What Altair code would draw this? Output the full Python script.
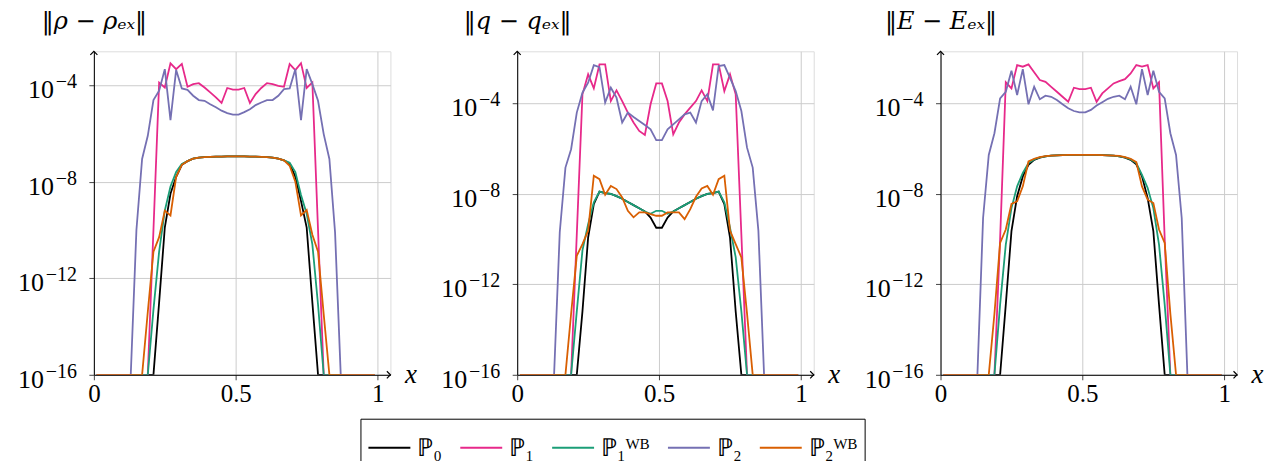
import altair as alt
import pandas as pd

X = [round(0.01 + 0.02 * i, 2) for i in range(50)]

KEYS = ["P0", "P1", "P1WB", "P2", "P2WB"]
LABELS = ["ℙ₀", "ℙ₁", "ℙ₁ᵂᴮ", "ℙ₂", "ℙ₂ᵂᴮ"]
COLORS = ["#000000", "#e7298a", "#1b9e77", "#7570b3", "#d95f02"]

YT_VALUES = [1e-16, 1e-12, 1e-8, 1e-4]
YT_EXP = ["−16", "−12", "−8", "−4"]

# log10 of the error (floor = -16)
RHO_P0 = [-16, -16, -16, -16, -16, -16, -16, -16, -16, -16, -16,
          -13.0, -9.9, -8.5, -7.8, -7.3, -7.15, -7.05, -7.0, -6.98,
          -6.97, -6.96, -6.96, -6.95, -6.95, -6.95, -6.95, -6.96, -6.96, -6.97,
          -6.98, -7.0, -7.05, -7.12, -7.25, -7.8, -8.8, -9.9, -13.0,
          -16, -16, -16, -16, -16, -16, -16, -16, -16, -16, -16]
RHO_P1 = [-16, -16, -16, -16, -16, -16, -16, -16, -16, -16,
          -10.0, -3.9, -4.1, -3.1, -3.34, -3.12, -4.07, -3.96, -3.92, -4.1,
          -4.3, -4.51, -4.74, -4.12, -4.19, -4.19, -4.12, -4.74, -4.37, -4.12,
          -3.92, -3.96, -4.03, -4.07, -3.13, -3.38, -3.09, -4.12, -3.89, -10.0,
          -16, -16, -16, -16, -16, -16, -16, -16, -16, -16]
RHO_P1WB = [-16, -16, -16, -16, -16, -16, -16, -16, -16, -16,
            -13.3, -10.9, -9.2, -8.2, -7.6, -7.27, -7.15, -7.05, -7.0, -6.98,
            -6.97, -6.96, -6.96, -6.95, -6.95, -6.95, -6.95, -6.96, -6.96, -6.97,
            -6.98, -7.0, -7.05, -7.12, -7.22, -7.6, -8.55, -9.33, -10.6, -13.1,
            -16, -16, -16, -16, -16, -16, -16, -16, -16, -16]
RHO_P2 = [-16, -16, -16, -16, -16, -16, -16,
          -10.0, -7.06, -6.1, -4.62, -4.23, -3.34, -5.45, -3.37, -4.14, -4.2,
          -4.44, -4.62, -4.65, -4.79, -4.92, -5.06, -5.16, -5.22, -5.22, -5.12,
          -5.0, -4.83, -4.72, -4.62, -4.62, -4.44, -4.17, -4.14, -3.34, -5.45,
          -3.34, -3.96, -4.65, -6.03, -7.06, -10.1,
          -16, -16, -16, -16, -16, -16, -16]
RHO_P2WB = [-16, -16, -16, -16, -16, -16, -16, -16, -16,
            -13.4, -10.9, -10.3, -9.2, -9.4, -7.8, -7.3, -7.15, -7.05, -7.0,
            -6.98, -6.97, -6.96, -6.96, -6.95, -6.95, -6.95, -6.95, -6.96, -6.96,
            -6.97, -6.98, -7.0, -7.05, -7.12, -7.34, -8.0, -9.4, -9.17, -10.2, -10.9, -13.5,
            -16, -16, -16, -16, -16, -16, -16, -16, -16]

Q_P0 = [-16, -16, -16, -16, -16, -16, -16, -16, -16, -16, -16,
        -13.2, -9.93, -8.46, -7.9, -7.97, -8.0, -8.1, -8.22, -8.36, -8.5,
        -8.64, -8.78, -9.05, -9.5, -9.5, -9.05, -8.78, -8.64, -8.5, -8.36,
        -8.22, -8.1, -8.0, -7.97, -7.9, -8.46, -9.93, -13.2,
        -16, -16, -16, -16, -16, -16, -16, -16, -16, -16, -16]
Q_P1 = [-16, -16, -16, -16, -16, -16, -16, -16, -16, -16,
        -9.8, -3.6, -2.72, -3.34, -2.28, -2.28, -3.9, -3.43, -3.9, -4.41,
        -4.85, -5.22, -5.4, -4.04, -3.12, -3.12, -3.9, -5.37, -4.85, -4.49,
        -4.19, -3.9, -3.43, -3.9, -2.28, -2.28, -3.46, -2.72, -3.6, -9.8,
        -16, -16, -16, -16, -16, -16, -16, -16, -16, -16]
Q_P1WB = [-16, -16, -16, -16, -16, -16, -16, -16, -16, -16,
          -13.2, -10.5, -9.34, -8.38, -7.9, -7.97, -8.0, -8.1, -8.22, -8.36,
          -8.5, -8.64, -8.78, -8.88, -8.75, -8.75, -8.88, -8.78, -8.64, -8.5,
          -8.36, -8.22, -8.1, -8.0, -7.97, -7.9, -8.38, -9.5, -10.8, -13.2,
          -16, -16, -16, -16, -16, -16, -16, -16, -16, -16]
Q_P2 = [-16, -16, -16, -16, -16, -16, -16,
        -9.7, -6.84, -6.03, -4.41, -3.53, -3.09, -2.31, -2.4, -3.97, -3.31,
        -3.75, -4.85, -4.41, -4.6, -4.78, -4.96, -5.15, -5.63, -5.63, -5.15,
        -4.93, -4.71, -4.49, -4.41, -4.85, -3.9, -3.6, -4.31, -2.35, -2.31,
        -2.87, -3.46, -4.34, -5.96, -6.84, -9.63,
        -16, -16, -16, -16, -16, -16, -16]
Q_P2WB = [-16, -16, -16, -16, -16, -16, -16, -16, -16,
          -13.3, -10.74, -10.22, -9.63, -7.2, -7.35, -8.04, -7.65, -7.79, -8.16,
          -8.75, -9.04, -8.82, -8.82, -8.9, -8.97, -8.97, -8.82, -8.82, -8.82,
          -9.12, -8.68, -8.13, -7.76, -7.65, -8.04, -7.35, -7.2, -9.63, -10.22, -10.81, -13.3,
          -16, -16, -16, -16, -16, -16, -16, -16, -16]

E_P0 = [-16, -16, -16, -16, -16, -16, -16, -16, -16, -16, -16,
        -12.9, -9.65, -8.11, -7.23, -6.72, -6.5, -6.4, -6.34, -6.31, -6.3,
        -6.29, -6.28, -6.28, -6.28, -6.28, -6.28, -6.28, -6.29, -6.3, -6.31,
        -6.34, -6.4, -6.5, -6.7, -7.23, -8.19, -9.65, -12.9,
        -16, -16, -16, -16, -16, -16, -16, -16, -16, -16, -16]
E_P1 = [-16, -16, -16, -16, -16, -16, -16, -16, -16, -16,
        -10.0, -3.07, -3.34, -2.31, -2.38, -2.28, -2.63, -2.97, -3.05, -3.27,
        -3.49, -3.71, -3.93, -3.31, -3.37, -3.37, -3.31, -3.93, -3.56, -3.34,
        -3.12, -3.02, -2.93, -2.68, -2.31, -2.38, -2.31, -3.34, -3.07, -10.0,
        -16, -16, -16, -16, -16, -16, -16, -16, -16, -16]
E_P1WB = [-16, -16, -16, -16, -16, -16, -16, -16, -16, -16,
          -12.9, -10.24, -8.63, -7.67, -7.08, -6.64, -6.48, -6.39, -6.34, -6.31,
          -6.3, -6.29, -6.28, -6.28, -6.28, -6.28, -6.28, -6.28, -6.29, -6.3,
          -6.31, -6.34, -6.39, -6.48, -6.64, -7.16, -7.74, -8.63, -10.24, -12.9,
          -16, -16, -16, -16, -16, -16, -16, -16, -16, -16]
E_P2 = [-16, -16, -16, -16, -16, -16, -16,
        -9.07, -6.28, -5.32, -3.78, -3.49, -2.56, -3.63, -2.49, -4.04, -3.27,
        -3.82, -3.66, -3.71, -3.85, -4.04, -4.22, -4.34, -4.4, -4.4, -4.29,
        -4.1, -3.95, -3.8, -3.71, -3.66, -3.82, -3.27, -4.04, -2.49, -3.63,
        -2.56, -3.49, -3.78, -5.32, -6.28, -9.07,
        -16, -16, -16, -16, -16, -16, -16]
E_P2WB = [-16, -16, -16, -16, -16, -16, -16, -16, -16,
          -13.3, -10.17, -9.58, -8.45, -8.33, -7.67, -6.57, -6.45, -6.38, -6.33,
          -6.31, -6.3, -6.29, -6.28, -6.28, -6.28, -6.28, -6.28, -6.28, -6.29,
          -6.3, -6.31, -6.32, -6.38, -6.45, -6.6, -7.67, -8.26, -8.41, -9.58, -10.17, -13.3,
          -16, -16, -16, -16, -16, -16, -16, -16, -16]

PANELS = [
    ("‖ρ − ρₑₓ‖", -2.6, [RHO_P0, RHO_P1, RHO_P1WB, RHO_P2, RHO_P2WB]),
    ("‖q − qₑₓ‖", -1.7, [Q_P0, Q_P1, Q_P1WB, Q_P2, Q_P2WB]),
    ("‖E − Eₑₓ‖", -1.7, [E_P0, E_P1, E_P1WB, E_P2, E_P2WB]),
]

W, H = 297, 324
FONT = "Liberation Serif"
TFONT = "DejaVu Serif"


def make_panel(title, top, series):
    rows = []
    for lab, vals in zip(LABELS, series):
        for xi, v in zip(X, vals):
            rows.append({"x": xi, "series": lab, "err": 10 ** v})
    df = pd.DataFrame(rows)
    ticks = pd.DataFrame({"err": YT_VALUES, "exp": YT_EXP})

    xscale = alt.Scale(domain=[0, 1.045], nice=False, zero=False)
    yscale = alt.Scale(type="log", domain=[1e-16, 10 ** top], nice=False)
    xaxis = alt.Axis(values=[0, 0.5, 1], format="~g", title="x", titleX=W + 20, titleY=0,
                     titleAngle=0, titleAlign="center", titleBaseline="middle",
                     titleFontStyle="italic", titleFontWeight="normal", titleFontSize=27,
                     grid=True, gridColor="#cccccc", domainColor="black", tickColor="#444",
                     tickSize=5, labelFontSize=25, labelPadding=2, labelColor="black",
                     labelFont=FONT, titleFont=FONT, titleColor="black", labelFlush=False)
    yaxis = alt.Axis(values=YT_VALUES, labels=False, title=title,
                     titleX=0, titleY=-30, titleAngle=0, titleAlign="center",
                     titleBaseline="middle", titleFontSize=24, titleFontWeight="normal",
                     titleFontStyle="italic", titleFont=TFONT, titleColor="black",
                     grid=True, gridColor="#cccccc", domainColor="black", tickColor="#444",
                     tickSize=5)
    y = alt.Y("err:Q", scale=yscale, axis=yaxis, title=title)
    color = alt.Color("series:N", scale=alt.Scale(domain=LABELS, range=COLORS),
                      legend=alt.Legend(title=None, orient="none", legendX=267, legendY=368,
                                        direction="horizontal", columns=5,
                                        symbolType="stroke", symbolStrokeWidth=2,
                                        symbolSize=1764, labelFontSize=25, labelFont=FONT,
                                        labelColor="black", strokeColor="black",
                                        fillColor="white", padding=7, columnPadding=14,
                                        labelOffset=6, symbolOpacity=1))
    layers = []
    for lab in LABELS:
        layers.append(
            alt.Chart(df).transform_filter(alt.datum.series == lab)
            .mark_line(strokeWidth=1.8, clip=True)
            .encode(x=alt.X("x:Q", scale=xscale, axis=xaxis), y=y, color=color)
        )
    # y tick labels: "10" with a raised exponent
    base_long = alt.Chart(ticks).transform_filter("length(datum.exp) == 3").mark_text(
        text="10", align="right", baseline="alphabetic", dy=13, fontSize=26, font=FONT,
        color="black").encode(x=alt.value(-50), y=y)
    base_short = alt.Chart(ticks).transform_filter("length(datum.exp) == 2").mark_text(
        text="10", align="right", baseline="alphabetic", dy=13, fontSize=26, font=FONT,
        color="black").encode(x=alt.value(-40), y=y)
    exps = alt.Chart(ticks).mark_text(
        align="right", baseline="alphabetic", dy=3, fontSize=20, font=FONT,
        color="black").encode(x=alt.value(-17), y=y, text="exp:N")

    one = pd.DataFrame({"k": [0]})
    xarrow = alt.Chart(one).mark_point(shape="M-1,-1L0,0L-1,1", filled=False, stroke="black",
                                       strokeWidth=1.2, size=50, opacity=1).encode(
        x=alt.value(W), y=alt.value(H))
    yarrow = alt.Chart(one).mark_point(shape="M-1,1L0,0L1,1", filled=False, stroke="black",
                                       strokeWidth=1.2, size=50, opacity=1).encode(
        x=alt.value(0), y=alt.value(0))
    return alt.layer(*layers, base_long, base_short, exps, xarrow, yarrow).properties(
        width=W, height=H)


panels = [make_panel(t, top, s) for t, top, s in PANELS]

chart = alt.hconcat(*panels, spacing=127, bounds="flush").properties(
    padding={"left": 9, "top": 0, "right": 5, "bottom": 5}
).configure_view(stroke=None).configure(font=FONT)

chart.save("out.html", embed_options={"renderer": "svg", "actions": False})
